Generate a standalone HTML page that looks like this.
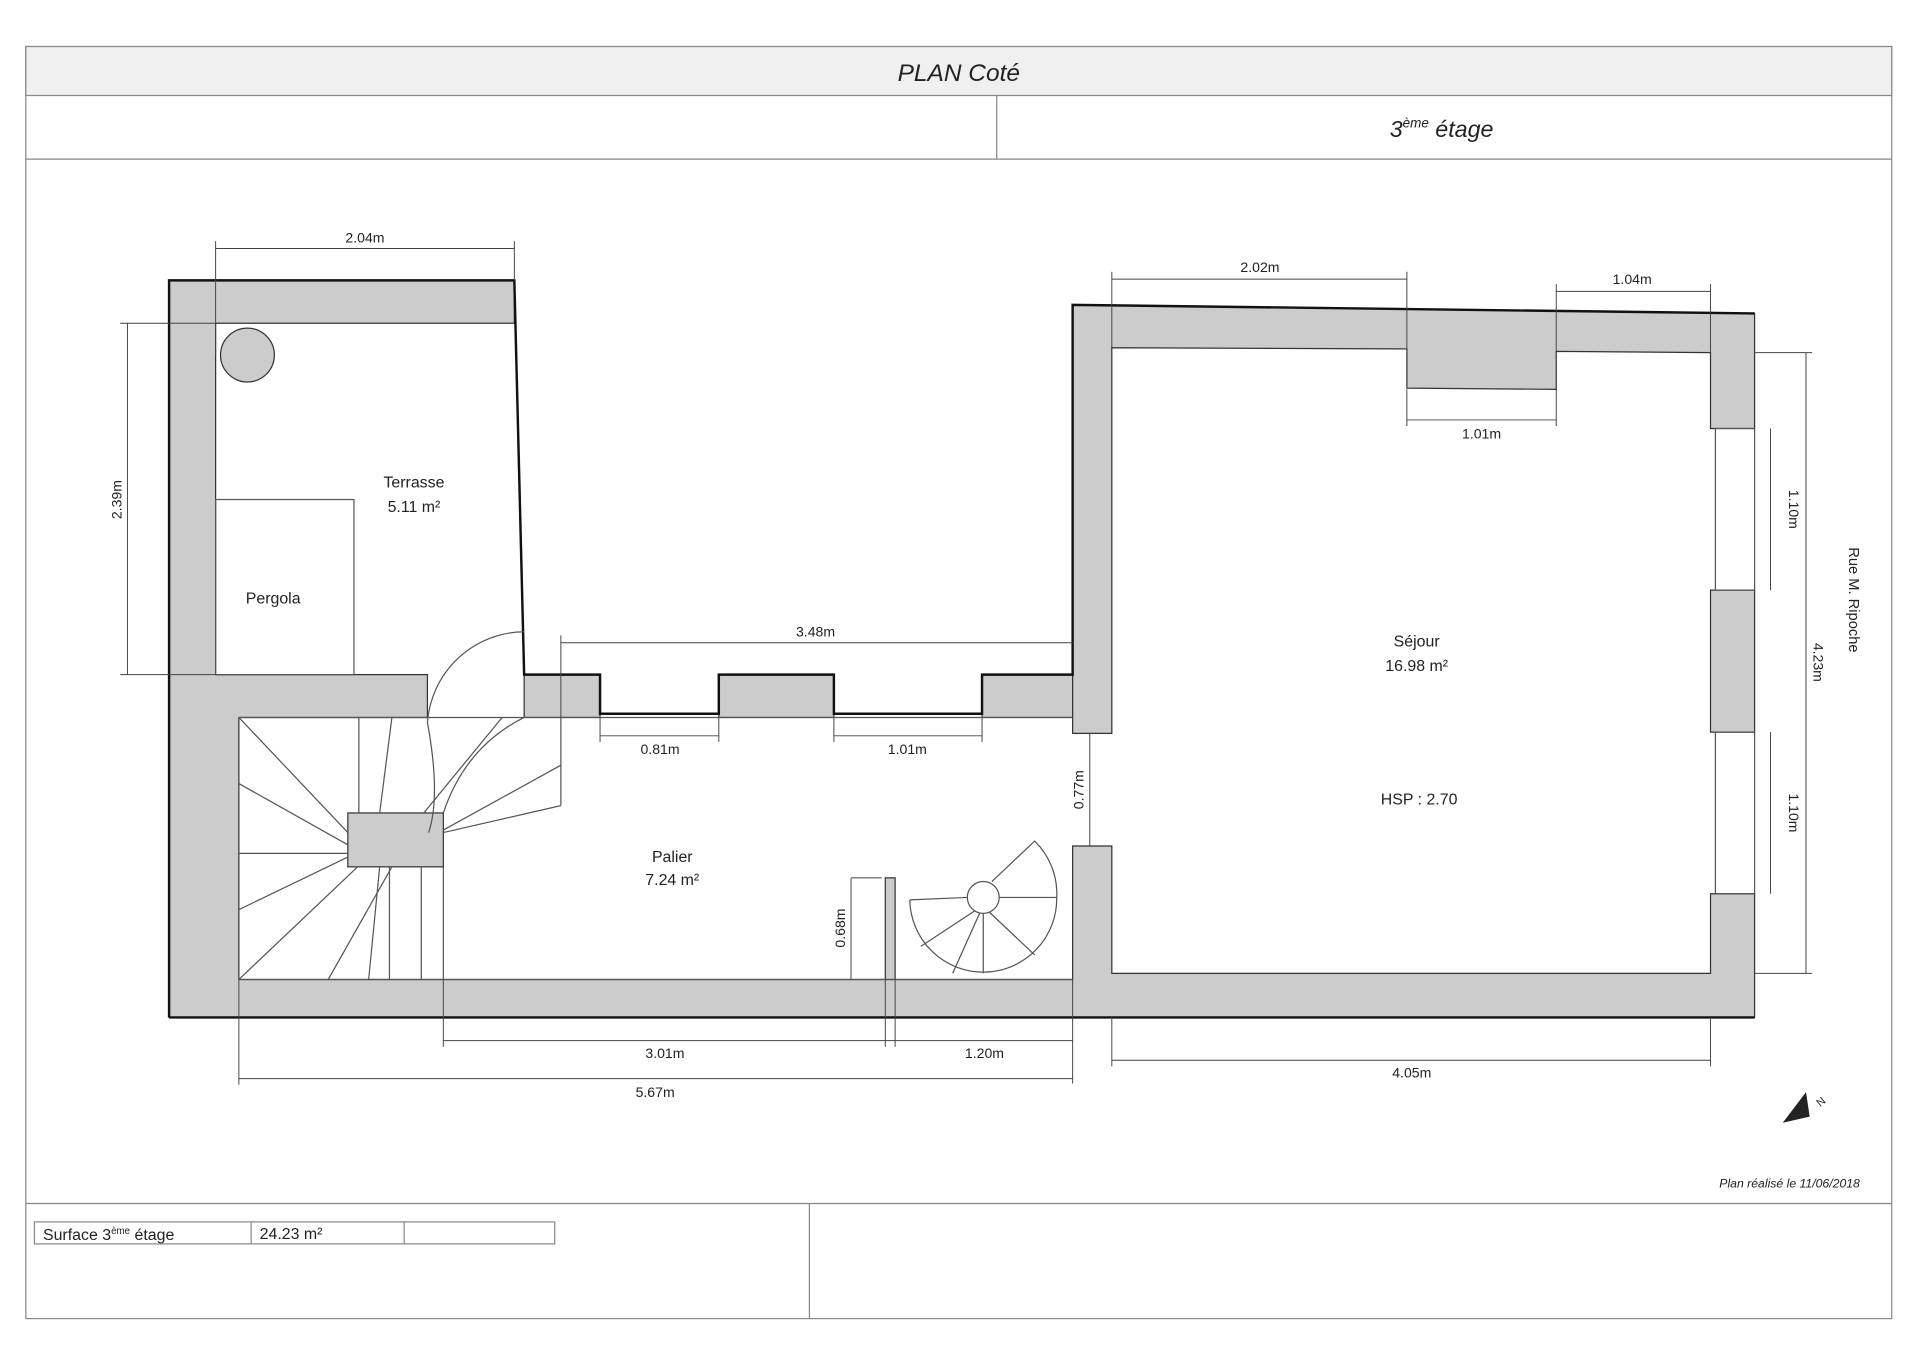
<!DOCTYPE html>
<html><head><meta charset="utf-8"><style>
html,body{margin:0;padding:0;background:#fff}
svg{display:block}
text{font-family:"Liberation Sans",sans-serif;fill:#222}
</style></head><body>
<svg width="1920" height="1359" viewBox="0 0 1568 1110" xmlns="http://www.w3.org/2000/svg">
<rect width="1568" height="1110" fill="#fff"/>
<!-- frame -->
<g stroke="#888" stroke-width="1" fill="none">
<rect x="21" y="38" width="1524" height="1039"/>
<rect x="21" y="38" width="1524" height="40" fill="#f0f0f0"/>
<line x1="21" y1="130" x2="1545" y2="130"/>
<line x1="814" y1="78" x2="814" y2="130"/>
<line x1="21" y1="983" x2="1545" y2="983"/>
<line x1="661" y1="983" x2="661" y2="1077"/>
<rect x="28" y="998" width="425" height="18"/>
<line x1="205" y1="998" x2="205" y2="1016"/>
<line x1="330" y1="998" x2="330" y2="1016"/>
</g>
<text x="783" y="66" font-size="20" font-style="italic" text-anchor="middle">PLAN Coté</text>
<text x="1135" y="112" font-size="19" font-style="italic">3<tspan font-size="11" dy="-8">ème</tspan><tspan dy="8"> étage</tspan></text>
<text x="35" y="1013" font-size="13">Surface 3<tspan font-size="8" dy="-5">ème</tspan><tspan dy="5"> étage</tspan></text>
<text x="212" y="1012" font-size="13">24.23 m²</text>
<text x="1519" y="970" font-size="10" font-style="italic" text-anchor="end">Plan réalisé le 11/06/2018</text>

<!-- walls -->
<g fill="#ccc" stroke="#333" stroke-width="1">
<polygon points="138,229 420,229 420,264 176,264 176,551 349,551 349,586 195,586 195,800 876,800 876,691 908,691 908,795 1397,795 1397,730 1433,730 1433,831 138,831"/>
<rect x="428" y="551" width="62" height="35"/>
<rect x="587" y="551" width="94" height="35"/>
<rect x="802" y="551" width="74" height="35"/>
<polygon points="876,249 1433,256 1433,350 1397,350 1397,288 1271,287 1271,318 1149,317 1149,285 908,284 908,599 876,599"/>
<rect x="1397" y="482" width="36" height="116"/>
<rect x="723" y="717" width="8" height="83"/>
<circle cx="202" cy="290" r="22"/>
<rect x="284" y="664" width="78" height="44"/>
</g>
<g stroke="#111" stroke-width="2" fill="none">
<polyline points="138,831 138,229 420,229 428,551 490,551 490,583 587,583 587,551 681,551 681,583 802,583 802,551 876,551 876,249 1433,256"/>
<line x1="138" y1="831" x2="1433" y2="831"/>
</g>
<g stroke="#555" stroke-width="1" fill="none">
<rect x="1401" y="350" width="32" height="132"/>
<rect x="1401" y="598" width="32" height="132"/>
<rect x="176" y="408" width="113" height="143"/>
<line x1="195" y1="586" x2="876" y2="586"/>
<line x1="195" y1="800" x2="876" y2="800"/>
<!-- door -->
<path d="M428,516 A80,80 0 0 0 349,590 Q360,650 350,680"/>
<!-- stairs -->
<line x1="458" y1="586" x2="458" y2="658"/>
<line x1="458" y1="658" x2="362" y2="680"/>
<line x1="195" y1="586" x2="284" y2="680"/>
<line x1="195" y1="640" x2="284" y2="690"/>
<line x1="195" y1="697" x2="284" y2="697"/>
<line x1="195" y1="743" x2="284" y2="700"/>
<line x1="195" y1="800" x2="292" y2="708"/>
<line x1="268" y1="800" x2="320" y2="708"/>
<line x1="301" y1="800" x2="310" y2="708"/>
<line x1="318" y1="800" x2="318" y2="708"/>
<line x1="344" y1="800" x2="344" y2="708"/>
<line x1="362" y1="708" x2="362" y2="800"/>
<line x1="293" y1="586" x2="293" y2="664"/>
<line x1="320" y1="586" x2="310" y2="664"/>
<line x1="346" y1="664" x2="410" y2="586"/>
<path d="M362,664 Q380,610 428,586"/>
<line x1="362" y1="678" x2="458" y2="625"/>
<!-- spiral -->
<circle cx="803" cy="733" r="13"/>
<path d="M743,735 A60,60 0 0 0 863,733 A60,60 0 0 0 845,687 L810,720"/>
<line x1="743" y1="735" x2="790" y2="733"/>
<line x1="816" y1="733" x2="863" y2="733"/>
<line x1="796" y1="744" x2="752" y2="773"/>
<line x1="800" y1="746" x2="778" y2="795"/>
<line x1="803" y1="746" x2="803" y2="795"/>
<line x1="808" y1="745" x2="845" y2="780"/>
</g>
<!-- dimension lines -->
<g stroke="#444" stroke-width="0.8" fill="none">
<line x1="176" y1="203" x2="420" y2="203"/><line x1="176" y1="197" x2="176" y2="290"/><line x1="420" y1="197" x2="420" y2="229"/>
<line x1="104" y1="264" x2="104" y2="551"/><line x1="98" y1="264" x2="176" y2="264"/><line x1="98" y1="551" x2="176" y2="551"/>
<line x1="908" y1="228" x2="1149" y2="228"/><line x1="908" y1="222" x2="908" y2="284"/><line x1="1149" y1="222" x2="1149" y2="285"/>
<line x1="1271" y1="238" x2="1397" y2="238"/><line x1="1271" y1="232" x2="1271" y2="287"/><line x1="1397" y1="232" x2="1397" y2="288"/>
<line x1="1149" y1="343" x2="1271" y2="343"/><line x1="1149" y1="318" x2="1149" y2="348"/><line x1="1271" y1="318" x2="1271" y2="348"/>
<line x1="458" y1="525" x2="876" y2="525"/><line x1="458" y1="519" x2="458" y2="586"/>
<line x1="490" y1="601" x2="587" y2="601"/><line x1="490" y1="586" x2="490" y2="606"/><line x1="587" y1="586" x2="587" y2="606"/>
<line x1="681" y1="601" x2="802" y2="601"/><line x1="681" y1="586" x2="681" y2="606"/><line x1="802" y1="586" x2="802" y2="606"/>
<line x1="890" y1="599" x2="890" y2="691"/>
<line x1="695" y1="717" x2="695" y2="800"/><line x1="695" y1="717" x2="720" y2="717"/>
<line x1="1446" y1="350" x2="1446" y2="482"/><line x1="1446" y1="598" x2="1446" y2="730"/>
<line x1="1475" y1="288" x2="1475" y2="795"/><line x1="1433" y1="288" x2="1480" y2="288"/><line x1="1433" y1="795" x2="1480" y2="795"/>
<line x1="362" y1="850" x2="876" y2="850"/><line x1="362" y1="800" x2="362" y2="855"/><line x1="723" y1="800" x2="723" y2="855"/><line x1="731" y1="800" x2="731" y2="855"/><line x1="876" y1="800" x2="876" y2="885"/>
<line x1="195" y1="881" x2="876" y2="881"/><line x1="195" y1="800" x2="195" y2="886"/>
<line x1="908" y1="866" x2="1397" y2="866"/><line x1="908" y1="831" x2="908" y2="871"/><line x1="1397" y1="831" x2="1397" y2="871"/>
</g>
<g font-size="11.5" text-anchor="middle">
<text x="298" y="198">2.04m</text>
<text x="1029" y="222">2.02m</text>
<text x="1333" y="232">1.04m</text>
<text x="1210" y="358">1.01m</text>
<text x="666" y="520">3.48m</text>
<text x="539" y="616">0.81m</text>
<text x="741" y="616">1.01m</text>
<text x="543" y="864">3.01m</text>
<text x="804" y="864">1.20m</text>
<text x="535" y="896">5.67m</text>
<text x="1153" y="880">4.05m</text>
<text transform="translate(99,408) rotate(-90)">2.39m</text>
<text transform="translate(885,645) rotate(-90)">0.77m</text>
<text transform="translate(690,758) rotate(-90)">0.68m</text>
<text transform="translate(1461,416) rotate(90)">1.10m</text>
<text transform="translate(1461,664) rotate(90)">1.10m</text>
<text transform="translate(1481,541) rotate(90)">4.23m</text>
<text transform="translate(1510,490) rotate(90)" font-size="12">Rue M. Ripoche</text>
</g>
<g font-size="13" text-anchor="middle">
<text x="338" y="398">Terrasse</text><text x="338" y="418">5.11 m²</text>
<text x="223" y="493">Pergola</text>
<text x="549" y="704">Palier</text><text x="549" y="723">7.24 m²</text>
<text x="1157" y="528">Séjour</text><text x="1157" y="548">16.98 m²</text>
<text x="1159" y="657">HSP : 2.70</text>
</g>
<path d="M1456,917 L1475,892 L1478,912 Z" fill="#222"/>
<text x="1484" y="903" font-size="9" transform="rotate(-40,1487,900)">N</text>
</svg>
</body></html>
